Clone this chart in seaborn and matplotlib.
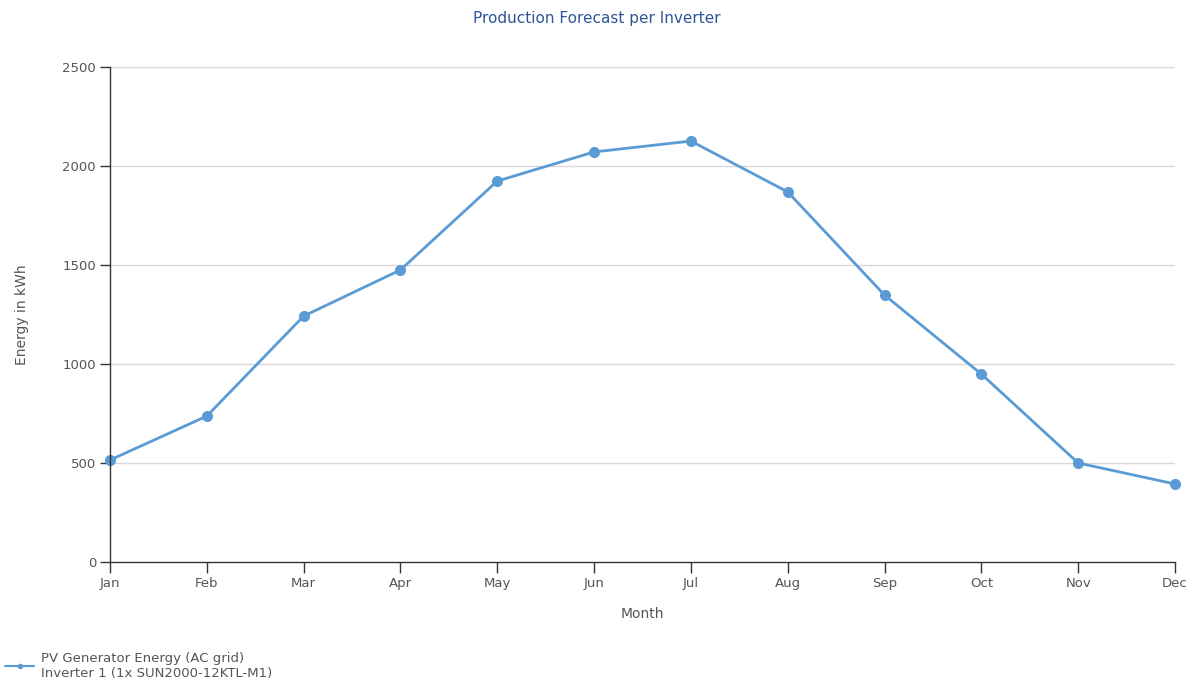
import matplotlib
matplotlib.use('Agg')
import matplotlib.pyplot as plt
import seaborn as sns
import pandas as pd

months = ['Jan', 'Feb', 'Mar', 'Apr', 'May', 'Jun', 'Jul', 'Aug', 'Sep', 'Oct', 'Nov', 'Dec']
energy_kwh = [515, 737, 1242, 1475, 1924, 2071, 2126, 1869, 1348, 949, 500, 394]
y_ticks = [0, 500, 1000, 1500, 2000, 2500]
series_label = 'PV Generator Energy (AC grid)\nInverter 1 (1x SUN2000-12KTL-M1)'

df = pd.DataFrame({'Month': months, 'Energy': energy_kwh, 'idx': range(len(months))})

sns.set_style('white')
plt.rcParams['font.family'] = ['DejaVu Sans']

line_color = '#5b9bd5'
text_color = '#555555'

fig = plt.figure(figsize=(11.95, 6.91), dpi=100)
ax = fig.add_axes([110 / 1195, 1 - 562 / 691, (1175 - 110) / 1195, (562 - 67) / 691])

for t in y_ticks[1:]:
    ax.axhline(t, color='#d9d9d9', linewidth=1, zorder=0)

sns.lineplot(data=df, x='idx', y='Energy', ax=ax, color=line_color, linewidth=2,
             marker='o', markersize=8, markeredgewidth=0, label=series_label, clip_on=False)

ax.set_xlim(0, len(months) - 1)
ax.set_ylim(0, 2500)
ax.set_xticks(range(len(months)))
ax.set_xticklabels(months)
ax.set_yticks(y_ticks)

for side in ['top', 'right']:
    ax.spines[side].set_visible(False)
for side in ['left', 'bottom']:
    ax.spines[side].set_color('#333333')
    ax.spines[side].set_linewidth(1)

ax.tick_params(axis='both', direction='out', length=7, width=1, color='#333333',
               labelsize=9.5, labelcolor=text_color, pad=3, bottom=True, left=True)
ax.tick_params(axis='x', length=8)

ax.set_xlabel('Month', fontsize=10, color=text_color, labelpad=12)
ax.set_ylabel('Energy in kWh', fontsize=10, color=text_color, labelpad=24)

fig.text(597 / 1195, 1 - 19 / 691, 'Production Forecast per Inverter', ha='center', va='center',
         fontsize=11, color='#2f5597')

leg = ax.legend(loc='upper left', bbox_to_anchor=(5 / 1195, 1 - 652 / 691),
                bbox_transform=fig.transFigure, frameon=False, fontsize=9.5,
                handlelength=2.2, handletextpad=0.5, borderaxespad=0, borderpad=0)
for txt in leg.get_texts():
    txt.set_color(text_color)
for h in leg.legend_handles:
    h.set_markersize(4)
    h.set_linewidth(1.5)

fig.savefig('out.png', dpi=100, facecolor='white')
